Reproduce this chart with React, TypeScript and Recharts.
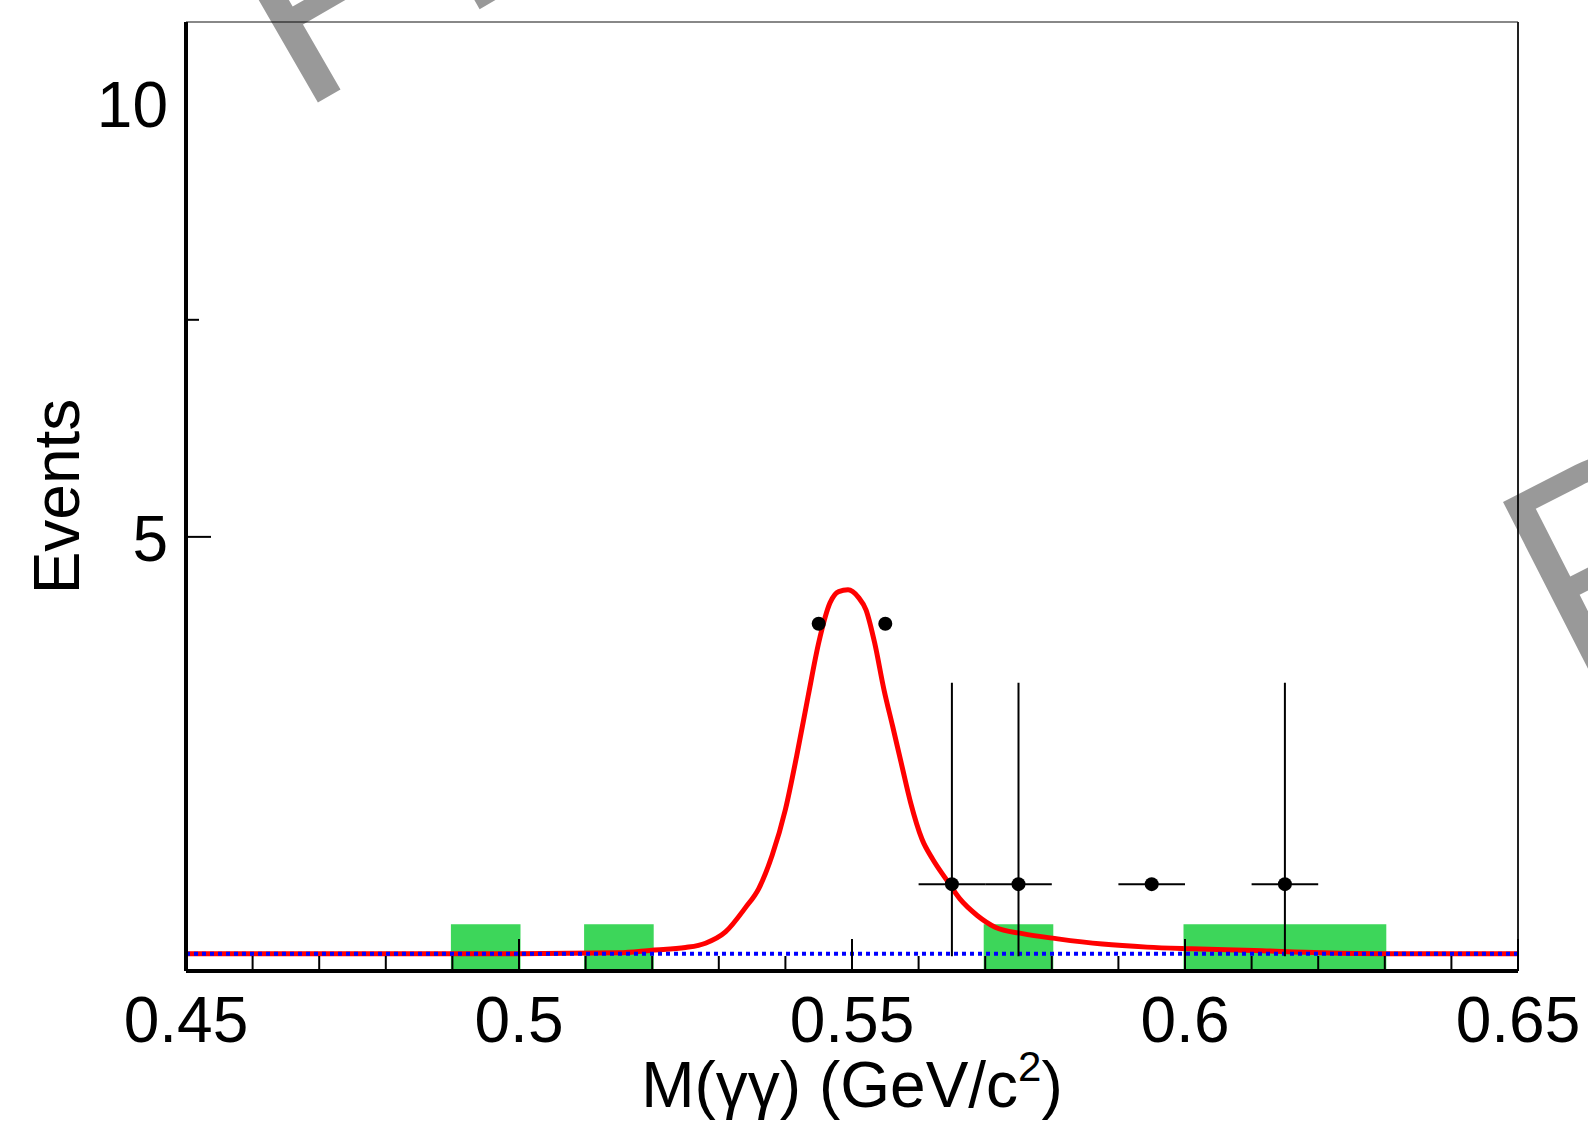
import React from 'react';
import { ComposedChart, Line, Area, Scatter, ErrorBar, XAxis, YAxis, ReferenceLine } from 'recharts';

const FONT = '"Liberation Sans", Arial, Helvetica, sans-serif';

// axis ticks
const xTicks = [0.45, 0.46, 0.47, 0.48, 0.49, 0.5, 0.51, 0.52, 0.53, 0.54, 0.55, 0.56, 0.57, 0.58, 0.59, 0.6, 0.61, 0.62, 0.63, 0.64, 0.65];
const xTickLabels = [0.45, 0.5, 0.55, 0.6, 0.65];
const yTicks = [5, 7.5, 10];
const yTickLabels = [5, 10];
const yTickMarks = [5, 7.5];
const yMax = 10.93;

// sideband histogram (green), bins of 0.01 from 0.45
const binEdges = [0.45, 0.46, 0.47, 0.48, 0.49, 0.5, 0.51, 0.52, 0.53, 0.54, 0.55, 0.56, 0.57, 0.58, 0.59, 0.6, 0.61, 0.62, 0.63, 0.64, 0.65];
const sidebandCounts = [0, 0, 0, 0, 0.52, 0, 0.52, 0, 0, 0, 0, 0, 0.52, 0, 0, 0.52, 0.52, 0.52, 0, 0];

// data points
const dataX = [0.545, 0.555, 0.565, 0.575, 0.595, 0.615];
const dataY = [4, 4, 1, 1, 1, 1];
const dataErrLow = [0, 0, 0.83, 0.83, 0, 0.83];
const dataErrHigh = [0, 0, 2.32, 2.32, 0, 2.32];
const dataErrX = [0, 0, 0.005, 0.005, 0.005, 0.005];

// total fit (red)
const fitX = [0.45, 0.5, 0.515, 0.52, 0.525, 0.528, 0.531, 0.534, 0.536, 0.538, 0.54, 0.5417, 0.5434, 0.545, 0.5467, 0.548, 0.5494, 0.551, 0.5521, 0.5534, 0.5548, 0.5561, 0.5575, 0.5588, 0.5605, 0.5621, 0.5641, 0.5662, 0.5688, 0.5715, 0.5756, 0.5809, 0.5876, 0.5943, 0.601, 0.6104, 0.6205, 0.63, 0.65];
const fitY = [0.2, 0.2, 0.21, 0.24, 0.27, 0.32, 0.45, 0.73, 0.95, 1.33, 1.86, 2.48, 3.16, 3.78, 4.24, 4.37, 4.39, 4.3, 4.16, 3.78, 3.24, 2.82, 2.36, 1.94, 1.52, 1.29, 1.06, 0.83, 0.64, 0.505, 0.43, 0.37, 0.31, 0.275, 0.256, 0.236, 0.21, 0.2, 0.2];

// background (blue dotted)
const bkgX = [0.45, 0.65];
const bkgY = [0.2, 0.2];

const histRows = binEdges.map((x, i) => ({ x, y: sidebandCounts[Math.min(i, sidebandCounts.length - 1)] }));
const pointRows = dataX.map((x, i) => ({ x, y: dataY[i], ey: [dataErrLow[i], dataErrHigh[i]], ex: dataErrX[i] }));
const fitRows = fitX.map((x, i) => ({ x, y: fitY[i] }));
const bkgRows = bkgX.map((x, i) => ({ x, y: bkgY[i] }));

const has = (arr: number[], v: number) => arr.some(t => Math.abs(t - v) < 1e-9);

function XTick(props: any) {
  const { x, y, payload } = props;
  const major = has(xTickLabels, payload.value);
  return (
    <g>
      <line x1={x} x2={x} y1={y} y2={y - (major ? 32 : 15)} stroke="#000" strokeWidth={2} />
      {major && (
        <text x={x} y={y + 71} textAnchor="middle" fontSize={64} fontFamily={FONT} fill="#000">
          {String(payload.value)}
        </text>
      )}
    </g>
  );
}

function YTick(props: any) {
  const { x, y, payload } = props;
  const v = payload.value;
  const major = has(yTickLabels, v);
  return (
    <g>
      {has(yTickMarks, v) && (
        <line x1={x} x2={x + (major ? 25 : 13)} y1={y} y2={y} stroke="#000" strokeWidth={2} />
      )}
      {major && (
        <text x={x - 18} y={y + 24} textAnchor="end" fontSize={64} fontFamily={FONT} fill="#000">
          {String(v)}
        </text>
      )}
    </g>
  );
}

function XTitle(props: any) {
  const { viewBox } = props;
  const cx = viewBox.x + viewBox.width / 2;
  return (
    <text x={cx} y={viewBox.y + 136} textAnchor="middle" fontSize={64} fontFamily={FONT} fill="#000">
      M(γγ) (GeV/c
      <tspan dy={-26} fontSize={42}>2</tspan>
      <tspan dy={26}>)</tspan>
    </text>
  );
}

function YTitle(props: any) {
  const { viewBox } = props;
  const cy = viewBox.y + viewBox.height / 2;
  const bx = 79;
  return (
    <text x={bx} y={cy} transform={`rotate(-90, ${bx}, ${cy})`} textAnchor="middle" fontSize={64} fontFamily={FONT} fill="#000">
      Events
    </text>
  );
}

const Dot = (props: any) => <circle cx={props.cx} cy={props.cy} r={7} fill="#000" />;

export default function App() {
  return (
    <div style={{ position: 'absolute', left: 0, top: 0, width: 1588, height: 1133, background: '#fff', overflow: 'hidden' }}>
      <ComposedChart width={1588} height={1133} margin={{ top: 22, right: 70, bottom: 62, left: 36 }}>
        <XAxis
          dataKey="x"
          type="number"
          domain={[0.45, 0.65]}
          allowDataOverflow
          ticks={xTicks}
          interval={0}
          height={100}
          tickSize={0}
          tickMargin={0}
          tickLine={false}
          axisLine={{ stroke: '#000', strokeWidth: 4 }}
          tick={<XTick />}
          label={<XTitle />}
        />
        <YAxis
          dataKey="y"
          type="number"
          domain={[0, yMax]}
          allowDataOverflow
          ticks={yTicks}
          interval={0}
          width={150}
          tickSize={0}
          tickMargin={0}
          tickLine={false}
          axisLine={{ stroke: '#000', strokeWidth: 4 }}
          tick={<YTick />}
          label={<YTitle />}
        />
        <ReferenceLine y={yMax} stroke="#888" strokeWidth={2} />
        <ReferenceLine x={0.65} stroke="#222" strokeWidth={2} />
        <Area
          data={histRows}
          dataKey="y"
          type="stepAfter"
          fill="#3dd65a"
          fillOpacity={1}
          stroke="#3dd65a"
          strokeWidth={3}
          isAnimationActive={false}
        />
        <Line data={fitRows} dataKey="y" type="monotone" stroke="#ff0000" strokeWidth={5} dot={false} isAnimationActive={false} />
        <Line data={bkgRows} dataKey="y" type="linear" stroke="#0000ff" strokeWidth={4} strokeDasharray="4 4" dot={false} isAnimationActive={false} />
        <Scatter data={pointRows} dataKey="y" shape={<Dot />} isAnimationActive={false}>
          <ErrorBar dataKey="ey" direction="y" width={0} stroke="#000" strokeWidth={2} isAnimationActive={false} />
          <ErrorBar dataKey="ex" direction="x" width={0} stroke="#000" strokeWidth={2} isAnimationActive={false} />
        </Scatter>
      </ComposedChart>
      <svg width={1588} height={1133} style={{ position: 'absolute', left: 0, top: 0, pointerEvents: 'none' }}>
        <text x={298} y={114} transform="rotate(-30, 298, 114)" fontSize={280} fontFamily={FONT} fill="#000" fillOpacity={0.4}>
          PRELIMINARY
        </text>
        <text x={1570} y={684} transform="rotate(-27, 1570, 684)" fontSize={280} fontFamily={FONT} fill="#000" fillOpacity={0.4}>
          PRELIMINARY
        </text>
      </svg>
    </div>
  );
}
